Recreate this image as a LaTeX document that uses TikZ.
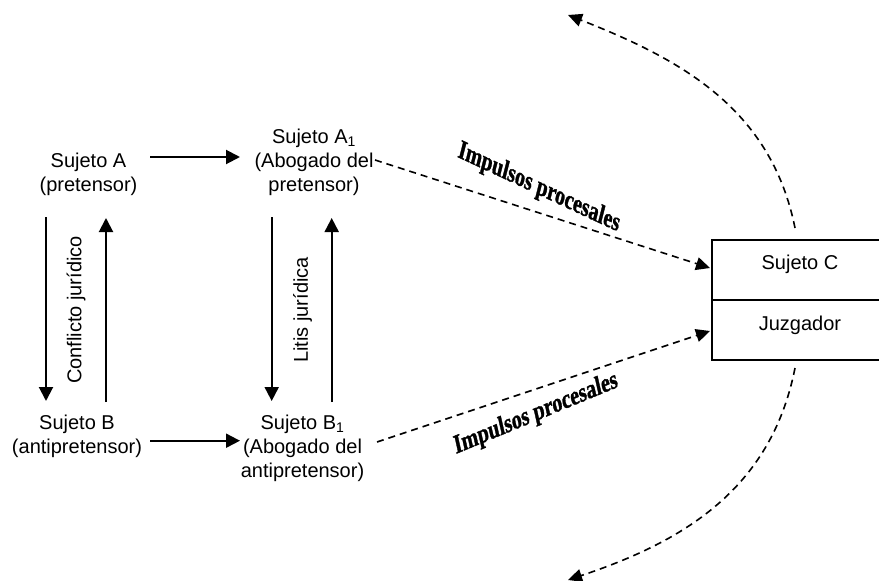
\documentclass[tikz,border=0pt]{standalone}
\usepackage{fontspec}
\setmainfont{Liberation Sans}
\newfontfamily\impfont{Liberation Serif}[BoldFeatures={FakeBold=1.5}]
\usetikzlibrary{arrows.meta}
\begin{document}
\begin{tikzpicture}[x=1pt,y=-1pt,
  txt/.style={font=\fontsize{20}{24}\selectfont, align=center, inner sep=0pt},
  arr/.style={line width=2pt, -{Triangle[length=14pt,width=14pt]}},
  darr/.style={line width=1.6pt, dash pattern=on 7pt off 5pt, -{Triangle[length=14pt,width=13pt]}},
  box/.style={draw, line width=2pt, minimum width=178pt, minimum height=60pt, inner sep=0pt},
  imp/.style={font=\impfont\bfseries\fontsize{27}{29}\selectfont, inner sep=0pt, xscale=0.74}]
\useasboundingbox (0,0) rectangle (879,581);
\clip (0,0) rectangle (879,581);

% subjects
\node[txt] (a)  at (88.5,174) {Sujeto A\\(pretensor)};
\node[txt] (a1) at (314,162) {Sujeto A\textsubscript{1}\\(Abogado del\\pretensor)};
\node[txt] (b)  at (77,436) {Sujeto B\\(antipretensor)};
\node[txt] (b1) at (302.5,448) {Sujeto B\textsubscript{1}\\(Abogado del\\antipretensor)};

% judge box
\node[box] (c) at (801,270) {};
\node[box] (j) at (801,329.5) {};
\node[txt] (ct) at (800,264) {Sujeto C};
\node[txt] (jt) at (800,325) {Juzgador};

% rotated labels
\node[txt, rotate=90] (cj) at (76,310) {Conflicto jurídico};
\node[txt, rotate=90] (lj) at (302.5,310) {Litis jurídica};
\node[imp, rotate=-19] (ip1) at (539,188) {Impulsos procesales};
\node[imp, rotate=17] (ip2) at (536,414) {Impulsos procesales};

% connector end points
\coordinate (aR) at (150,157);   \coordinate (a1L) at (240,157);
\coordinate (bR) at (150,440.7); \coordinate (b1L) at (240,440.7);
\coordinate (aD) at (46,217);    \coordinate (bU) at (46,401);
\coordinate (bD) at (106,402);   \coordinate (aU) at (106,218);
\coordinate (a1D) at (271.7,217); \coordinate (b1U) at (271.7,401);
\coordinate (b1D) at (331.7,402); \coordinate (a1U) at (331.7,218);
\coordinate (a1R) at (375,160);  \coordinate (cL) at (710,268);
\coordinate (b1R) at (377,442);  \coordinate (jL) at (710,331);
\coordinate (cT) at (795,228);   \coordinate (topEnd) at (568,15);
\coordinate (jB) at (795,368);   \coordinate (botEnd) at (568,580);

% solid arrows
\draw[arr] (aR) -- (a1L);
\draw[arr] (bR) -- (b1L);
\draw[arr] (aD) -- (bU);
\draw[arr] (bD) -- (aU);
\draw[arr] (a1D) -- (b1U);
\draw[arr] (b1D) -- (a1U);

% dashed arrows
\draw[darr] (a1R) -- (cL);
\draw[darr] (b1R) -- (jL);
\draw[darr] (cT) .. controls (771,108) and (680,59) .. (topEnd);
\draw[darr] (jB) .. controls (771,490) and (682,542) .. (botEnd);
\end{tikzpicture}
\end{document}
